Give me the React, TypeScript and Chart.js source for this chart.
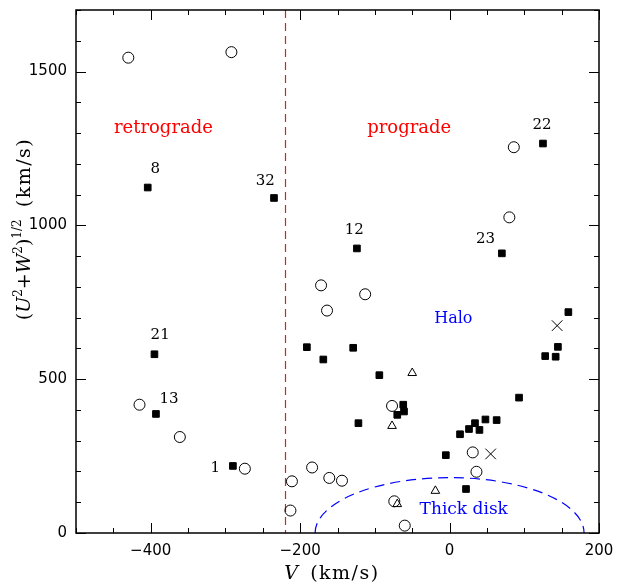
import { useEffect, useRef } from 'react';
import { Chart, registerables } from 'chart.js';

Chart.register(...registerables);

// ---- axis ranges ----
const X_MIN = -500;
const X_MAX = 200;
const Y_MIN = 0;
const Y_MAX = 1700;
const X_MAJOR = 200;
const X_MINOR = 50;
const Y_MAJOR = 500;
const Y_MINOR = 100;

// boundary between retrograde and prograde orbits (km/s)
const PROGRADE_LIMIT_V = -220;
// thick disk boundary: radius in (V, (U²+W²)^1/2) plane, km/s
const THICK_DISK_RADIUS = 180;

// ---- data ----
// labelled filled squares (first entries of squareV / squareY)
const starIds = ['8', '32', '12', '23', '22', '21', '13', '1'];

// filled squares
const squareV = [-404, -235, -124, 70, 125, -395, -393, -290,
  -191, -129, -169, -94, -62, -61, -70, -122, 159, 145, 128, 142, 93, 48, 63, 34, 26, 40, 14, -5, 22];
const squareY = [1123, 1089, 925, 909, 1266, 581, 387, 218,
  604, 602, 564, 513, 417, 395, 384, 357, 718, 605, 575, 573, 440, 369, 367, 357, 338, 335, 321, 253, 143];

// open circles
const circleV = [-430, -292, 86, 80, -415, -361, -274, -211, -213, -172, -113, -164, -77, -184, -161, -144, -74, -60, 31, 36];
const circleY = [1545, 1563, 1254, 1026, 417, 312, 209, 168, 73, 805, 776, 723, 413, 213, 179, 170, 103, 24, 262, 199];

// open triangles
const triangleV = [-50, -77, -70, -19];
const triangleY = [520, 348, 94, 137];

// crosses
const crossV = [144, 55];
const crossY = [674, 257];

// region labels
const regionTexts = ['retrograde', 'prograde', 'Halo', 'Thick disk'];
const regionV = [-383, -54, 5, 19];
const regionY = [1315, 1315, 695, 76];

// ---- layout / style (pixel offsets of star id labels relative to their marker) ----
const ID_OFFSETS: [number, number][] = [
  [7.6, -18], [-8.7, -17], [-2.7, -18.3], [-16.3, -14.3], [-1, -18.3], [5.7, -19.3], [13, -14.7], [-17.7, 1.7],
];
const REGION_STYLE = [
  { color: '#ff0000', size: 18 },
  { color: '#ff0000', size: 18 },
  { color: '#0000ff', size: 16 },
  { color: '#0000ff', size: 17 },
];

const toPts = (xs: number[], ys: number[]) => xs.map((v, i) => ({ x: v, y: ys[i] }));

const fmt = (v: number) => (v < 0 ? '\u2212' + Math.abs(v) : String(v));

type Piece = { t: string; font: string; dy?: number; ls?: string };

function drawPieces(ctx: CanvasRenderingContext2D, pieces: Piece[], cx: number, cy: number, rotate: boolean) {
  ctx.save();
  ctx.translate(cx, cy);
  if (rotate) ctx.rotate(-Math.PI / 2);
  ctx.textAlign = 'left';
  ctx.textBaseline = 'alphabetic';
  ctx.fillStyle = '#000';
  const widths = pieces.map((p) => {
    ctx.font = p.font;
    (ctx as any).letterSpacing = p.ls || '0px';
    return ctx.measureText(p.t).width;
  });
  const total = widths.reduce((a, b) => a + b, 0);
  let x = -total / 2;
  pieces.forEach((p, i) => {
    ctx.font = p.font;
    (ctx as any).letterSpacing = p.ls || '0px';
    ctx.fillText(p.t, x, p.dy || 0);
    x += widths[i];
  });
  ctx.restore();
}

const guidesPlugin = {
  id: 'guides',
  beforeDatasetsDraw(chart: any) {
    const { ctx, chartArea: a, scales } = chart;
    const x = scales.x;
    const y = scales.y;
    ctx.save();
    ctx.beginPath();
    ctx.rect(a.left, a.top, a.right - a.left, a.bottom - a.top);
    ctx.clip();
    // dashed vertical line
    const lx = Math.round(x.getPixelForValue(PROGRADE_LIMIT_V)) + 0.5;
    ctx.strokeStyle = 'rgb(200,40,40)';
    ctx.lineWidth = 1.2;
    ctx.setLineDash([8, 5]);
    ctx.beginPath();
    ctx.moveTo(lx, a.top);
    ctx.lineTo(lx, a.bottom);
    ctx.stroke();
    // thick disk boundary
    const cx = x.getPixelForValue(0);
    const cy = y.getPixelForValue(0);
    const rx = x.getPixelForValue(THICK_DISK_RADIUS) - cx;
    const ry = cy - y.getPixelForValue(THICK_DISK_RADIUS);
    ctx.strokeStyle = '#0000ff';
    ctx.lineWidth = 1.2;
    ctx.setLineDash([10, 6]);
    ctx.beginPath();
    ctx.ellipse(cx, cy, rx, ry, 0, Math.PI, 2 * Math.PI);
    ctx.stroke();
    ctx.restore();
  },
};

const annotPlugin = {
  id: 'annot',
  afterDraw(chart: any) {
    const { ctx, chartArea: a, scales } = chart;
    const x = scales.x;
    const y = scales.y;
    ctx.save();
    // frame
    ctx.strokeStyle = '#000';
    ctx.lineWidth = 1.5;
    ctx.setLineDash([]);
    ctx.strokeRect(a.left, a.top, a.right - a.left, a.bottom - a.top);
    ctx.lineWidth = 1;
    const seg = (x1: number, y1: number, x2: number, y2: number) => {
      ctx.beginPath();
      ctx.moveTo(x1, y1);
      ctx.lineTo(x2, y2);
      ctx.stroke();
    };
    for (let v = X_MIN; v <= X_MAX; v += X_MINOR) {
      const px = Math.round(x.getPixelForValue(v)) + 0.5;
      const len = v % X_MAJOR === 0 ? 10 : 5;
      seg(px, a.bottom, px, a.bottom - len);
      seg(px, a.top, px, a.top + len);
    }
    for (let v = Y_MIN; v <= Y_MAX; v += Y_MINOR) {
      const py = Math.round(y.getPixelForValue(v)) + 0.5;
      const len = v % Y_MAJOR === 0 ? 10 : 5;
      seg(a.left, py, a.left + len, py);
      seg(a.right, py, a.right - len, py);
    }

    // star ids
    ctx.fillStyle = '#000';
    ctx.textAlign = 'center';
    ctx.textBaseline = 'middle';
    ctx.font = '15px "DejaVu Serif"';
    starIds.forEach((id, i) => {
      const px = x.getPixelForValue(squareV[i]) + ID_OFFSETS[i][0];
      const py = y.getPixelForValue(squareY[i]) + ID_OFFSETS[i][1];
      ctx.fillText(id, px, py);
    });

    // region labels
    regionTexts.forEach((t, i) => {
      ctx.fillStyle = REGION_STYLE[i].color;
      ctx.font = `${REGION_STYLE[i].size}px "DejaVu Serif"`;
      ctx.fillText(t, x.getPixelForValue(regionV[i]), y.getPixelForValue(regionY[i]));
    });
    ctx.restore();

    // axis titles
    const serif = '19px "DejaVu Serif"';
    const ital = 'italic 19px "DejaVu Serif"';
    const sup = '12px "DejaVu Serif"';
    drawPieces(ctx, [
      { t: 'V', font: ital },
      { t: '  ', font: serif },
      { t: '(km/s)', font: serif, ls: '1.5px' },
    ], 332, 579, false);
    drawPieces(ctx, [
      { t: '(', font: serif },
      { t: 'U', font: ital },
      { t: '2', font: sup, dy: -8 },
      { t: '+', font: serif },
      { t: 'W', font: ital },
      { t: '2', font: sup, dy: -8 },
      { t: ')', font: serif },
      { t: '1/2', font: sup, dy: -9 },
      { t: '  ', font: serif },
      { t: '(km/s)', font: serif, ls: '1.5px' },
    ], 30, 229, true);
  },
};

export default function App() {
  const ref = useRef<HTMLCanvasElement | null>(null);
  useEffect(() => {
    document.body.style.margin = '0';
    const canvas = ref.current;
    if (!canvas) return;
    const chart = new Chart(canvas, {
      type: 'scatter',
      data: {
        datasets: [
          {
            label: 'circles',
            data: toPts(circleV, circleY),
            pointStyle: 'circle',
            pointRadius: 5.5,
            backgroundColor: 'rgba(0,0,0,0)',
            borderColor: '#000',
            borderWidth: 1,
          },
          {
            label: 'triangles',
            data: toPts(triangleV, triangleY),
            pointStyle: 'triangle',
            pointRadius: 5,
            backgroundColor: 'rgba(0,0,0,0)',
            borderColor: '#000',
            borderWidth: 1,
          },
          {
            label: 'crosses',
            data: toPts(crossV, crossY),
            pointStyle: 'crossRot',
            pointRadius: 7.5,
            backgroundColor: 'rgba(0,0,0,0)',
            borderColor: '#000',
            borderWidth: 1,
          },
          {
            label: 'squares',
            data: toPts(squareV, squareY),
            pointStyle: 'rect',
            pointRadius: 4.7,
            backgroundColor: '#000',
            borderColor: '#000',
            borderWidth: 1,
          },
        ],
      },
      options: {
        animation: false,
        responsive: false,
        events: [],
        layout: { padding: { left: 0, top: 10, right: 19, bottom: 0 } },
        plugins: { legend: { display: false }, tooltip: { enabled: false } },
        scales: {
          x: {
            type: 'linear',
            min: X_MIN,
            max: X_MAX,
            afterFit: (s: any) => { s.height = 50; s.paddingLeft = 0; s.paddingRight = 0; },
            grid: { display: false, drawTicks: false },
            border: { display: false },
            ticks: {
              stepSize: X_MINOR,
              autoSkip: false,
              maxRotation: 0,
              padding: 9,
              color: '#000',
              font: { family: 'DejaVu Sans', size: 15 },
              callback: (v: any) => (Number(v) % X_MAJOR === 0 ? fmt(Number(v)) : ''),
            },
          },
          y: {
            type: 'linear',
            min: Y_MIN,
            max: Y_MAX,
            afterFit: (s: any) => { s.width = 76; s.paddingTop = 0; s.paddingBottom = 0; },
            grid: { display: false, drawTicks: false },
            border: { display: false },
            ticks: {
              stepSize: Y_MINOR,
              autoSkip: false,
              padding: 9,
              color: '#000',
              font: { family: 'DejaVu Sans', size: 15 },
              callback: (v: any) => (Number(v) % Y_MAJOR === 0 ? fmt(Number(v)) : ''),
            },
          },
        },
      },
      plugins: [guidesPlugin, annotPlugin],
    });
    return () => chart.destroy();
  }, []);
  return (
    <div style={{ width: 618, height: 583 }}>
      <canvas ref={ref} width={618} height={583} style={{ display: 'block' }} />
    </div>
  );
}
